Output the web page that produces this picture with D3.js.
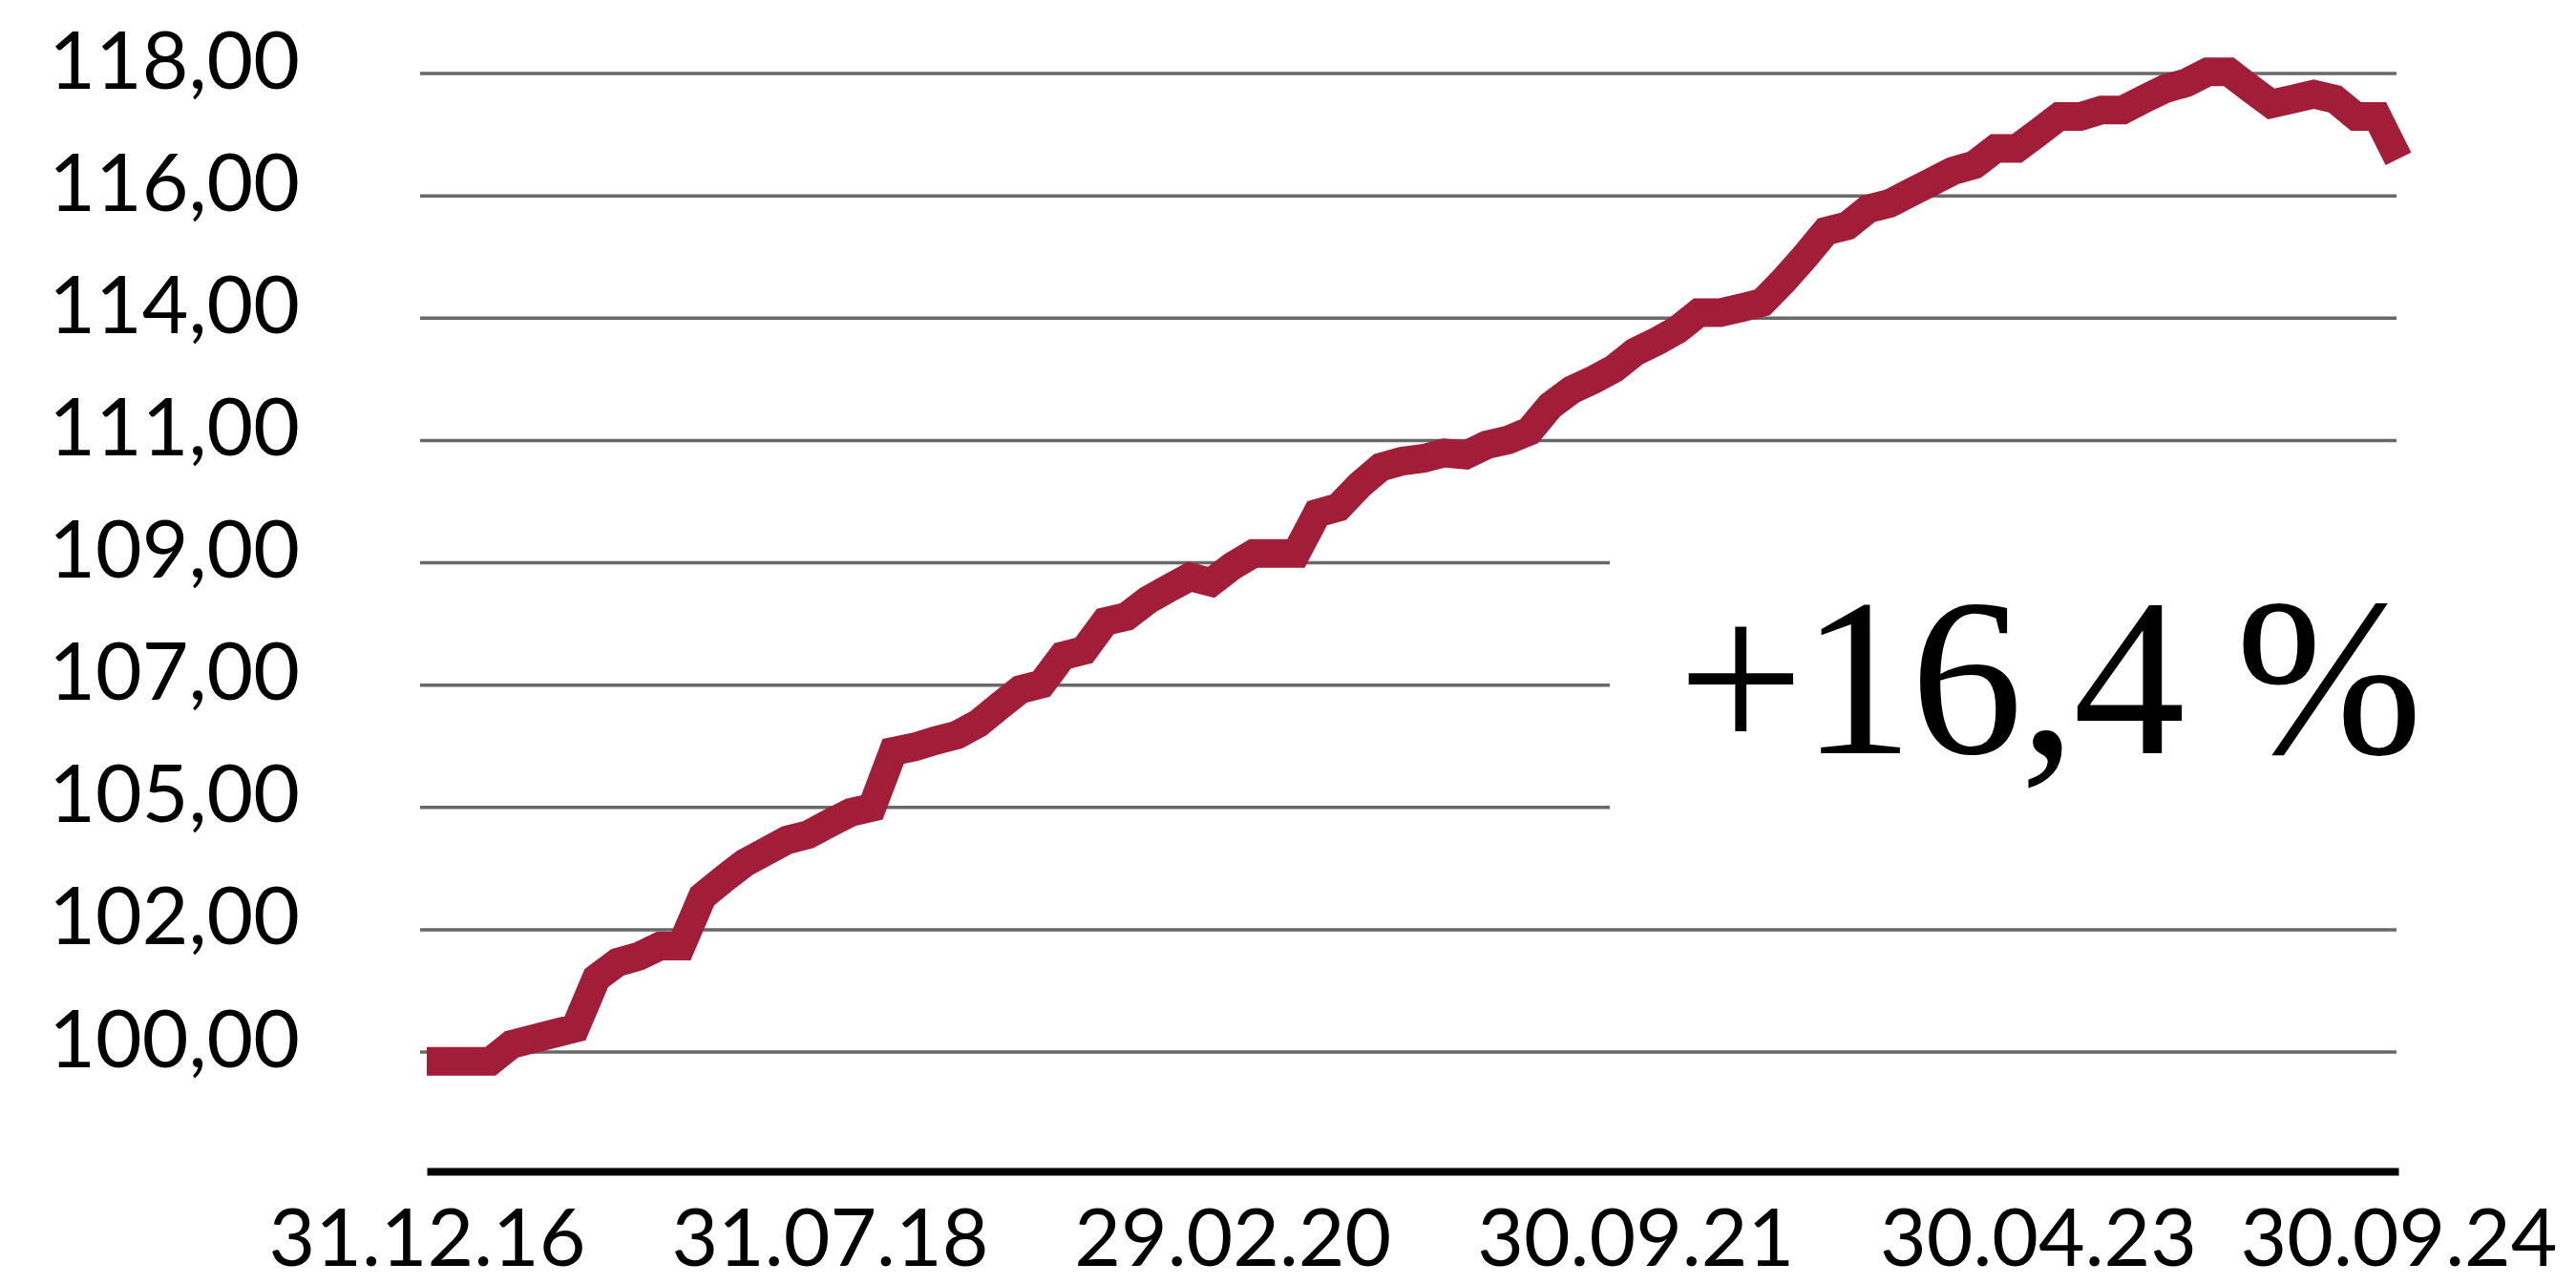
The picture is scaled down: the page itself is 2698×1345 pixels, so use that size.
<!DOCTYPE html>
<html>
<head>
<meta charset="utf-8">
<script src="https://cdn.jsdelivr.net/npm/d3@7"></script>
<style>
  html, body { margin: 0; padding: 0; background: #ffffff; }
  svg { display: block; }
</style>
</head>
<body>
<svg id="chart" width="2698" height="1345"></svg>
<script>
// Month-end closing values of the index, Dec 2016 – Sep 2024 (94 months)
const indexValues = [
  99.83, 99.83, 99.83, 99.83, 100.14, 100.24, 100.34, 100.44, 101.36, 101.65,
  101.76, 101.95, 101.95, 102.86, 103.18, 103.48, 103.69, 103.90, 104.00, 104.21,
  104.41, 104.50, 105.53, 105.61, 105.73, 105.83, 106.04, 106.36, 106.67, 106.77,
  107.29, 107.39, 107.92, 108.01, 108.31, 108.53, 108.74, 108.64, 108.94, 109.17,
  109.17, 109.17, 109.91, 110.02, 110.43, 110.76, 110.87, 110.92, 111.02, 110.98,
  111.17, 111.26, 111.42, 111.89, 112.18, 112.36, 112.57, 112.88, 113.07, 113.29,
  113.60, 113.60, 113.69, 113.79, 114.19, 114.63, 115.10, 115.20, 115.51, 115.61,
  115.81, 116.01, 116.21, 116.32, 116.62, 116.62, 116.91, 117.21, 117.21, 117.33,
  117.33, 117.53, 117.72, 117.83, 118.03, 118.03, 117.73, 117.44, 117.53, 117.62,
  117.53, 117.21, 117.21, 116.43
];

// Period-end dates (last day of each month), labelled dd.mm.yy
const fmtDate = d3.utcFormat("%d.%m.%y");
const periodEnds = indexValues.map((_, i) =>
  fmtDate(d3.utcDay.offset(d3.utcMonth.offset(new Date(Date.UTC(2017, 0, 1)), i), -1)));

// Axis ticks
const xTickLabels = ["31.12.16", "31.07.18", "29.02.20", "30.09.21", "30.04.23", "30.09.24"];
const yTicks      = [100, 102.25, 104.5, 106.75, 109, 111.25, 113.5, 115.75, 118];
const yTickLabels = ["100,00", "102,00", "105,00", "107,00", "109,00", "111,00", "114,00", "116,00", "118,00"];
// Gridlines that stop early to leave room for the performance figure
const shortGridTicks = [104.5, 106.75, 109];

const performanceLabel = "+16,4 %";

const svg = d3.select("#chart");

const x = d3.scalePoint().domain(periodEnds).range([447, 2512]);
const y = d3.scaleLinear().domain([100, 118]).range([1102, 77]);

const gridLeft = 440, gridRight = 2510, gridShortRight = 1686;
const labelFont = "Lato, 'Open Sans', sans-serif";

// Horizontal gridlines
svg.append("g")
  .selectAll("line")
  .data(yTicks)
  .join("line")
  .attr("x1", gridLeft)
  .attr("x2", d => shortGridTicks.includes(d) ? gridShortRight : gridRight)
  .attr("y1", d => y(d))
  .attr("y2", d => y(d))
  .attr("stroke", "#686868")
  .attr("stroke-width", 3.5);

// Y labels
svg.append("g")
  .selectAll("text")
  .data(yTicks)
  .join("text")
  .attr("x", 314)
  .attr("y", d => y(d) + 15.5)
  .attr("text-anchor", "end")
  .attr("font-family", labelFont)
  .attr("font-size", 84)
  .attr("fill", "#000")
  .text((d, i) => yTickLabels[i]);

// X axis
const xAxis = svg.append("g")
  .attr("transform", "translate(0,1227)")
  .call(d3.axisBottom(x).tickValues(xTickLabels).tickSize(0).tickSizeOuter(0));

xAxis.select(".domain")
  .attr("stroke", "#000")
  .attr("stroke-width", 8);

xAxis.selectAll(".tick text")
  .attr("y", 99)
  .attr("dy", 0)
  .attr("font-family", labelFont)
  .attr("font-size", 84)
  .attr("fill", "#000");

// Index line
const line = d3.line()
  .x((d, i) => x(periodEnds[i]))
  .y(d => y(d));

svg.append("path")
  .datum(indexValues)
  .attr("d", line)
  .attr("fill", "none")
  .attr("stroke", "#a21d38")
  .attr("stroke-width", 30)
  .attr("stroke-linejoin", "miter")
  .attr("stroke-miterlimit", 10)
  .attr("stroke-linecap", "butt");

// Performance figure
svg.append("text")
  .attr("x", 1757)
  .attr("y", 789)
  .attr("font-family", "'Liberation Serif', 'Times New Roman', serif")
  .attr("font-size", 235)
  .attr("letter-spacing", -3)
  .attr("fill", "#000")
  .text(performanceLabel);
</script>
</body>
</html>
